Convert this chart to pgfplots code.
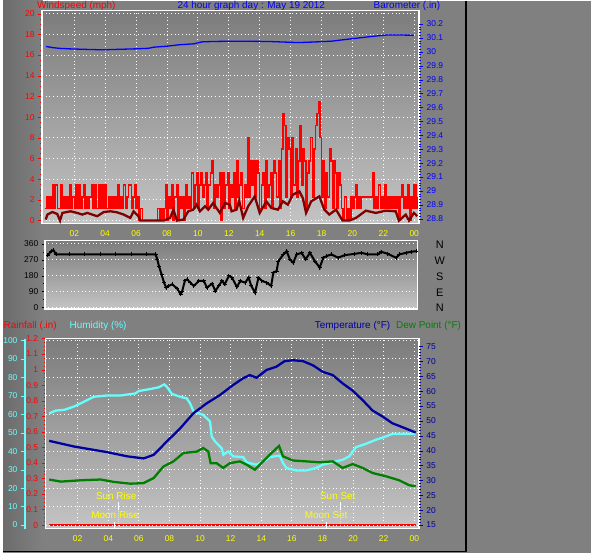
\documentclass[border=0pt]{standalone}
\usepackage{pgfplots}
\pgfplotsset{compat=1.18}
\usepackage{fontspec}
\setmainfont{Liberation Sans}
\definecolor{bg}{RGB}{128,128,128}
\definecolor{bgdark}{RGB}{108,108,108}
\definecolor{plottop}{RGB}{124,124,124}
\definecolor{plotbot}{RGB}{196,196,196}
\definecolor{wred}{RGB}{255,0,0}
\definecolor{maroonc}{RGB}{128,0,0}
\definecolor{baro}{RGB}{0,0,255}
\definecolor{navyc}{RGB}{0,0,160}
\definecolor{hum}{RGB}{102,255,255}
\definecolor{dew}{RGB}{0,128,0}
\definecolor{yel}{RGB}{255,255,0}
\pgfplotsset{
  every axis/.append style={
    scale only axis, anchor=south west,
    /pgf/number format/assume math mode=true,
    tick label style={font=\fontsize{8.5}{9}\selectfont},
    tick align=outside, major tick length=4pt, minor tick length=2pt,
    grid style={white, line width=0.9pt, dash pattern=on 0.9pt off 2.8pt},
  },
  framed/.style={axis line style={white, line width=1.5pt},
    axis background/.style={top color=plottop, bottom color=plotbot}},
}
\newcommand{\tfont}{\fontsize{10}{12}\selectfont}
\begin{document}
\begin{tikzpicture}[x=1pt,y=1pt]
\fill[bg] (0pt,0pt) rectangle (591pt,-555pt);
\shade[left color=bgdark, right color=bg] (0pt,0pt) rectangle (40pt,-553pt);
\draw[black, line width=1.5pt] (465.5pt,0pt) -- (465.5pt,-553.5pt) -- (0pt,-553.5pt);

% titles
\node[anchor=west, text=wred, inner sep=0, font=\tfont] at (34pt,-5pt) {Windspeed (mph)};
\node[text=baro, inner sep=0, font=\tfont] at (249.5pt,-5pt) {24 hour graph day : May 19 2012};
\node[anchor=east, text=baro, inner sep=0, font=\tfont] at (439.5pt,-5pt) {Barometer (.in)};
\node[anchor=west, text=wred, inner sep=0, font=\tfont] at (0.5pt,-327pt) {Rainfall (.in)};
\node[anchor=west, text=hum, inner sep=0, font=\tfont] at (66.7pt,-327pt) {Humidity (\%)};
\node[anchor=west, text=navyc, inner sep=0, font=\tfont] at (313.3pt,-327pt) {Temperature (°F)};
\node[anchor=east, text=dew, inner sep=0, font=\tfont] at (460.5pt,-327pt) {Dew Point (°F)};
\foreach \l/\yy in {N/245,W/261,S/277,E/293,N/309}{
  \node[text=black, inner sep=0, font=\fontsize{11}{12}\selectfont] at (439pt,-\yy pt) {\l};}

% ---------------- top: wind speed ----------------
\begin{axis}[framed, at={(39.3pt,-224pt)}, width=379pt, height=214pt,
  xmin=-0.08, xmax=24.32, ymin=-0.29, ymax=20.29,
  xtick={2,4,...,24}, xticklabels={02,04,06,08,10,12,14,16,18,20,22,00},
  xticklabel style={text=yel}, xtick style={draw=none},
  ytick={0,2,...,20}, minor y tick num=3, ytick pos=left,
  ytick style={wred}, yticklabel style={text=wred},
  xmajorgrids, ymajorgrids]
\addplot[wred, line width=1.5pt, const plot] coordinates {
(0.1,1.15)(0.2,2.3)(0.3,1.15)(0.4,2.3)(0.5,1.15)(0.6,3.45)(0.7,1.15)(0.8,3.45)(0.9,1.15)(1.0,1.15)
(1.1,3.45)(1.2,1.15)(1.3,2.3)(1.4,1.15)(1.5,2.3)(1.6,1.15)(1.7,3.45)(1.8,1.15)(1.9,2.3)(2.0,1.15)
(2.1,3.45)(2.2,1.15)(2.3,3.45)(2.4,1.15)(2.5,2.3)(2.6,3.45)(2.7,1.15)(2.8,2.3)(2.9,1.15)(3.0,2.3)
(3.1,3.45)(3.2,1.15)(3.3,3.45)(3.4,1.15)(3.5,1.15)(3.6,3.45)(3.7,1.15)(3.8,3.45)(3.9,1.15)(4.0,3.45)
(4.1,1.15)(4.2,2.3)(4.3,1.15)(4.4,2.3)(4.5,1.15)(4.6,2.3)(4.7,1.15)(4.8,3.45)(4.9,1.15)(5.0,2.3)
(5.1,1.15)(5.2,3.45)(5.3,1.15)(5.4,2.3)(5.5,3.45)(5.6,3.45)(5.7,1.15)(5.8,2.3)(5.9,3.45)(6.0,1.15)
(6.1,2.3)(6.2,0)(6.3,1.15)(6.4,0)(7.3,0)(7.4,1.15)(7.5,0)(7.6,1.15)(7.7,0)(7.8,1.15)
(7.9,3.45)(8.0,0)(8.1,2.3)(8.2,1.15)(8.3,3.45)(8.4,0)(8.5,2.3)(8.6,3.45)(8.7,0)(8.8,2.3)
(8.9,1.15)(9.0,2.3)(9.1,0)(9.2,3.45)(9.3,1.15)(9.4,2.3)(9.5,1.15)(9.6,4.6)(9.7,1.15)(9.8,3.45)
(9.9,4.6)(10.0,1.15)(10.1,3.45)(10.2,4.6)(10.3,2.3)(10.4,3.45)(10.5,4.6)(10.6,1.15)(10.7,3.45)(10.8,4.6)
(10.9,5.75)(11.0,1.15)(11.1,3.45)(11.2,2.3)(11.3,3.45)(11.4,4.6)(11.5,0)(11.6,4.6)(11.7,1.15)(11.8,3.45)
(11.9,4.6)(12.0,1.15)(12.1,3.45)(12.2,2.3)(12.3,4.6)(12.4,1.15)(12.5,5.75)(12.6,2.3)(12.7,3.45)(12.8,4.6)
(12.9,1.15)(13.0,3.45)(13.1,2.3)(13.2,8.05)(13.3,2.3)(13.4,5.75)(13.5,3.45)(13.6,5.75)(13.7,2.3)(13.8,5.75)
(13.9,4.6)(14.0,1.15)(14.1,3.45)(14.2,4.6)(14.3,1.15)(14.4,5.75)(14.5,2.3)(14.6,3.45)(14.7,4.6)(14.8,1.15)
(14.9,5.75)(15.0,4.6)(15.1,2.3)(15.2,5.75)(15.3,1.15)(15.4,6.9)(15.5,10.35)(15.6,9.2)(15.7,2.3)(15.8,8.05)
(15.9,6.9)(16.0,2.3)(16.1,8.05)(16.2,3.45)(16.3,6.9)(16.4,2.3)(16.5,5.75)(16.6,9.2)(16.7,3.45)(16.8,6.9)
(16.9,5.75)(17.0,1.15)(17.1,4.6)(17.2,5.75)(17.3,8.05)(17.4,2.3)(17.5,6.9)(17.6,9.2)(17.7,10.35)(17.8,11.5)
(17.9,8.05)(18.0,2.3)(18.1,5.75)(18.2,1.15)(18.3,4.6)(18.4,2.3)(18.5,6.9)(18.6,5.75)(18.7,1.15)(18.8,5.75)
(18.9,4.6)(19.0,1.15)(19.1,4.6)(19.2,3.45)(19.3,1.15)(19.4,0)(19.5,2.3)(19.6,0)(19.7,1.15)(19.8,0)
(19.9,2.3)(20.0,1.15)(20.1,2.3)(20.2,3.45)(20.3,1.15)(20.4,2.3)(20.5,1.15)(20.6,2.3)(21.2,2.3)(21.3,4.6)
(21.4,1.15)(21.5,2.3)(21.6,1.15)(21.7,3.45)(21.8,1.15)(21.9,2.3)(22.0,1.15)(22.1,3.45)(22.2,1.15)(22.3,2.3)
(22.4,1.15)(22.5,2.3)(22.6,1.15)(22.7,2.3)(22.8,1.15)(22.9,2.3)(23.0,0)(23.1,2.3)(23.2,3.45)(23.3,1.15)
(23.4,2.3)(23.5,1.15)(23.6,3.45)(23.7,0)(23.8,2.3)(23.9,1.15)(24.0,3.45)(24.1,1.15)(24.2,2.3)};
\addplot[maroonc, line width=2.3pt] coordinates {
(0.15,0.1)(0.26,0.58)(0.58,0.83)(0.9,0.64)(1.08,0)(1.23,0.74)(1.76,0.9)(2.19,0.74)(2.52,0.58)(2.84,0.74)
(3.48,0.42)(3.91,0.83)(4.34,0.9)(4.77,0.8)(5.2,0.58)(5.63,0.26)(5.84,0.9)(6.16,0.42)(6.27,0)(7.77,0)
(8.2,0.26)(8.42,1.06)(8.64,0)(9.06,0.1)(9.38,0.9)(9.7,1.06)(9.92,1.54)(10.13,0.9)(10.46,1.38)(10.67,1.06)
(10.99,1.7)(11.42,0.74)(11.75,1.7)(12.07,1.54)(12.18,0.9)(12.5,1.06)(12.67,1.92)(12.93,0.26)(13.25,1.38)(13.68,2.34)
(14.0,0.74)(14.43,1.86)(14.75,1.22)(15.18,1.06)(15.5,1.86)(15.82,1.54)(16.14,2.5)(16.57,2.82)(16.79,2.18)(17.0,0.74)
(17.33,1.86)(17.86,2.34)(18.18,1.06)(18.5,0.58)(18.94,1.06)(19.36,0)(19.79,0)(20.23,0.26)(20.87,0.96)(21.51,0.74)
(22.16,0.96)(22.8,0.9)(23.01,0)(23.45,0.58)(23.66,0)(23.98,0.74)(24.19,0.42)};
\end{axis}
\begin{axis}[at={(39.3pt,-224pt)}, width=379pt, height=214pt,
  xmin=-0.08, xmax=24.32, ymin=28.766, ymax=30.295,
  axis x line=none, axis y line*=right, y axis line style={draw=none},
  ytick={28.8,28.9,29,29.1,29.2,29.3,29.4,29.5,29.6,29.7,29.8,29.9,30,30.1,30.2},
  minor y tick num=4, ytick style={baro}, yticklabel style={text=baro}]
\addplot[baro, line width=1.3pt] coordinates {
(0.17,30.038)(0.6,30.03)(1.0,30.025)(1.68,30.021)(2.5,30.018)(3.83,30.014)(5.0,30.018)(5.97,30.021)
(6.8,30.025)(7.15,30.033)(8.0,30.04)(8.76,30.05)(9.73,30.057)(10.26,30.071)(11.0,30.074)(12.4,30.076)
(14.56,30.074)(15.5,30.07)(16.49,30.066)(17.5,30.07)(18.63,30.076)(19.92,30.093)(21.42,30.112)(22.29,30.121)(24.0,30.119)};
\end{axis}

% ---------------- middle: wind direction ----------------
\begin{axis}[framed, at={(42pt,-310pt)}, width=374.7pt, height=69pt,
  xmin=-0.1, xmax=24.1, ymin=-9.6, ymax=378.6,
  xtick=\empty, ytick={0,90,180,270,360}, minor y tick num=1, ytick pos=left,
  major tick length=3pt, ytick style={black}, yticklabel style={text=black},
  ymajorgrids]
\addplot[black, line width=2pt, mark=+, mark size=2pt, mark options={line width=1pt}] coordinates {
(0.1,296)(0.31,318)(0.46,324)(0.63,300)(1.5,300)(2.5,300)(3.5,300)(4.5,300)(5.5,300)(6.5,300)(7.09,300)
(7.2,272)(7.31,234)(7.48,187)(7.64,140)(7.78,112)(7.96,122)(8.17,131)(8.49,107)(8.71,75)(8.82,93)
(8.99,150)(9.14,159)(9.35,140)(9.57,122)(9.9,150)(10.22,150)(10.43,112)(10.76,135)(10.97,93)(11.19,122)
(11.4,150)(11.58,131)(11.84,178)(12.05,169)(12.37,116)(12.59,150)(12.91,140)(13.13,169)(13.3,122)(13.55,84)
(13.77,169)(13.99,150)(14.31,140)(14.59,122)(14.74,197)(14.95,206)(15.06,262)(15.39,300)(15.6,318)(15.81,272)
(16.03,253)(16.25,300)(16.57,309)(16.83,272)(17.11,309)(17.43,262)(17.75,225)(17.97,281)(18.18,290)(18.5,300)
(18.94,281)(19.37,296)(20.01,303)(20.45,309)(20.88,300)(21.52,300)(21.74,315)(22.17,303)(22.71,281)(22.92,300)
(23.35,309)(23.68,315)(24.0,318)};
\end{axis}

% ---------------- bottom ----------------
\begin{axis}[framed, at={(42.7pt,-530.5pt)}, width=375.3pt, height=191pt,
  xmin=-0.1, xmax=24.3, ymin=-0.022, ymax=1.2001,
  xtick={2,4,...,24}, xticklabels={02,04,06,08,10,12,14,16,18,20,22,00},
  xticklabel style={text=yel}, xtick style={draw=none}, xmajorgrids,
  ytick={0,0.1,0.2,0.3,0.4,0.5,0.6,0.7,0.8,0.9,1,1.1,1.2}, minor y tick num=3, ytick pos=left,
  ytick style={wred}, yticklabel style={text=wred}]
\addplot[wred, line width=2.5pt] coordinates {(0.15,0) (24.1,0)};
\end{axis}
\begin{axis}[at={(42.7pt,-530.5pt)}, width=375.3pt, height=191pt,
  xmin=-0.1, xmax=24.3, ymin=-1.89, ymax=101.07,
  axis x line=none, axis y line*=left,
  y axis line style={hum, line width=2pt, xshift=-20.7pt},
  ytick={0,10,...,100}, tick style={hum, xshift=-20.7pt},
  yticklabel style={text=hum, xshift=-20.7pt}, ymajorgrids]
\addplot[hum, line width=2.3pt] coordinates {
(0.14,60.5)(0.57,62)(1.11,62.4)(1.76,64.2)(2.41,66.8)(3.06,69.5)(3.93,70.2)(4.8,70.2)(5.77,71.3)(5.99,72.6)
(6.75,73.7)(7.29,74.6)(7.66,76.2)(7.83,74.9)(8.16,71)(8.7,69.5)(9.13,68.6)(9.35,65.9)(9.57,61.5)(10.2,59.7)
(10.65,56.1)(10.76,48)(10.98,45.3)(11.41,41.7)(11.52,38.1)(11.84,39.9)(12.17,37.2)(12.82,36.8)(13.04,34)(13.69,32.7)
(14.34,35.4)(14.55,36.8)(15.2,37.6)(15.42,33.6)(15.64,30.9)(16.29,29.6)(16.94,29.6)(17.59,30.9)(18.02,32.7)(18.67,34)
(19.32,35.4)(19.75,37.2)(20.19,42.2)(20.84,44)(21.49,46.2)(22.14,48)(22.57,49.4)(24.09,49.4)};
\end{axis}
\begin{axis}[at={(42.7pt,-530.5pt)}, width=375.3pt, height=191pt,
  xmin=-0.1, xmax=24.3, ymin=13.83, ymax=77.7,
  axis x line=none, axis y line*=right, y axis line style={draw=none},
  ytick={15,20,...,75}, minor y tick num=4, ytick style={navyc}, yticklabel style={text=navyc}]
\addplot[navyc, line width=2.3pt] coordinates {
(0.14,43.3)(1.76,41.4)(3.93,39.5)(5.23,38.1)(6.31,37.4)(6.97,38.6)(7.83,43.1)(8.70,47.5)(9.57,52.6)(10.43,55.9)
(11.3,58.7)(12.17,62.1)(12.8,64.3)(13.25,65.4)(13.69,64.5)(14.34,67.1)(14.98,68.2)(15.53,70.1)(16.07,70.4)(16.72,70.1)
(17.37,68.7)(18.02,66.5)(18.67,65.4)(19.32,62.6)(19.97,60.2)(20.62,57.0)(21.27,53.5)(21.92,51.5)(22.57,49.2)(23.22,47.9)(24.09,46.1)};
\addplot[dew, line width=2.3pt] coordinates {
(0.14,30.3)(0.9,29.6)(2.2,30.05)(3.5,30.3)(4.36,29.5)(5.45,28.9)(6.31,29.1)(6.97,30.8)(7.61,34.7)(8.26,36.4)
(8.91,39.2)(9.79,39.7)(10.21,40.9)(10.54,39.7)(10.69,35.8)(11.08,35.8)(11.51,34.2)(11.95,35.8)(12.6,36.4)(13.04,35.3)
(13.58,33.6)(14.12,36.4)(14.77,39.7)(15.16,41.6)(15.42,38.1)(16.07,36.7)(16.94,36.4)(17.8,36.1)(18.67,36.4)(19.32,34.2)
(19.97,35.5)(20.62,34.2)(21.27,32.5)(22.14,31.4)(23.01,30.05)(23.66,28.4)(24.09,28.0)};
\draw[white, line width=1pt] (axis cs:4.69,22.7) -- (axis cs:4.69,20.1);
\draw[yel, line width=1pt, dash pattern=on 1pt off 1pt] (axis cs:4.69,19.7) -- (axis cs:4.69,15);
\draw[white, line width=1pt] (axis cs:4.41,15.9) -- (axis cs:4.41,13.9);
\draw[white, line width=1pt] (axis cs:19.17,22.7) -- (axis cs:19.17,20.1);
\draw[yel, line width=1pt, dash pattern=on 1pt off 1pt] (axis cs:19.17,19.7) -- (axis cs:19.17,15);
\draw[white, line width=1pt] (axis cs:18.28,15.9) -- (axis cs:18.28,13.9);
\node[text=yel, inner sep=0, font=\tfont] at (axis cs:4.52,24.7) {Sun Rise};
\node[text=yel, inner sep=0, font=\tfont] at (axis cs:4.45,18.3) {Moon Rise};
\node[text=yel, inner sep=0, font=\tfont] at (axis cs:19.0,24.7) {Sun Set};
\node[text=yel, inner sep=0, font=\tfont] at (axis cs:18.24,18.3) {Moon Set};
\end{axis}
\end{tikzpicture}
\end{document}
